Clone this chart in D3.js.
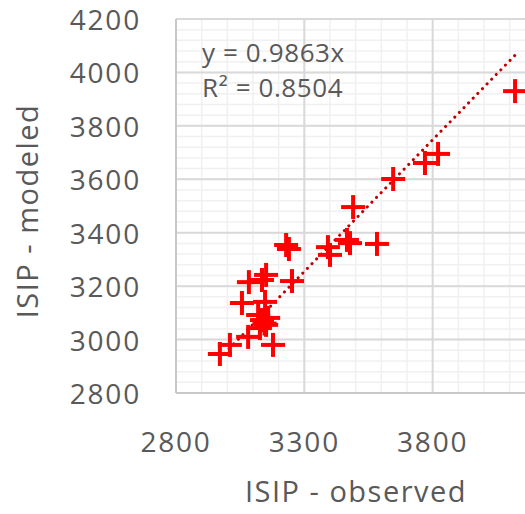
<!DOCTYPE html>
<html>
<head>
<meta charset="utf-8">
<script src="https://cdn.jsdelivr.net/npm/d3@7"></script>
<style>
  body { margin: 0; background: #fff; }
  text { font-family: "Open Sans", sans-serif; fill: #595959; }
</style>
</head>
<body>
<svg id="chart" width="525" height="514"></svg>
<script>
// observed vs modeled ISIP
const observed = [4121, 3821, 3770, 3646, 3490, 3466, 3478, 3583, 3392, 3400,
  3229, 3240, 3084, 3135, 3151, 3252, 3057, 3147, 3120, 3135,
  3151, 3159, 3127, 3145, 3081, 3178, 3010, 2971];
const modeled = [3930, 3695, 3661, 3601, 3496, 3373, 3361, 3358, 3346, 3317,
  3354, 3339, 3215, 3223, 3242, 3219, 3137, 3141, 3092, 3073,
  3055, 3081, 3043, 3060, 3010, 2980, 2980, 2946];
const slope = 0.9863;
const eqLabels = ["y = 0.9863x", "R² = 0.8504"];
const xTicks = [2800, 3300, 3800];
const yTicks = [2800, 3000, 3200, 3400, 3600, 3800, 4000, 4200];

const svg = d3.select("#chart");

const x = d3.scaleLinear().domain([2800, 4300]).range([176, 561]);
const y = d3.scaleLinear().domain([2800, 4200]).range([393, 19]);

// minor grid
const g = svg.append("g");
g.selectAll(".vminor")
  .data(d3.range(2800, 4301, 100))
  .enter().append("line")
  .attr("x1", d => x(d)).attr("x2", d => x(d))
  .attr("y1", y(2800)).attr("y2", y(4200))
  .attr("stroke", "#f0f0f0").attr("stroke-width", 1.5);
g.selectAll(".hminor")
  .data(d3.range(2800, 4201, 40))
  .enter().append("line")
  .attr("x1", x(2800)).attr("x2", x(4300))
  .attr("y1", d => y(d)).attr("y2", d => y(d))
  .attr("stroke", "#f0f0f0").attr("stroke-width", 1.5);

// major grid
g.selectAll(".vmajor")
  .data(d3.range(2800, 4301, 500))
  .enter().append("line")
  .attr("x1", d => x(d)).attr("x2", d => x(d))
  .attr("y1", y(2800)).attr("y2", y(4200))
  .attr("stroke", "#d9d9d9").attr("stroke-width", 2);
g.selectAll(".hmajor")
  .data(yTicks)
  .enter().append("line")
  .attr("x1", x(2800)).attr("x2", x(4300))
  .attr("y1", d => y(d)).attr("y2", d => y(d))
  .attr("stroke", "#d9d9d9").attr("stroke-width", 2);

// axis lines
svg.append("line")
  .attr("x1", x(2800)).attr("x2", x(2800))
  .attr("y1", y(2800)).attr("y2", y(4200))
  .attr("stroke", "#c8c8c8").attr("stroke-width", 2);
svg.append("line")
  .attr("x1", x(2800)).attr("x2", x(4300))
  .attr("y1", y(2800)).attr("y2", y(2800))
  .attr("stroke", "#c8c8c8").attr("stroke-width", 2);

// tick labels
svg.selectAll(".ylab")
  .data(yTicks)
  .enter().append("text")
  .attr("x", 141)
  .attr("y", d => y(d) + 11)
  .attr("text-anchor", "end")
  .style("font-size", "28px")
  .style("letter-spacing", "1.8px")
  .text(d => d);
svg.selectAll(".xlab")
  .data(xTicks)
  .enter().append("text")
  .attr("x", d => x(d))
  .attr("y", 452)
  .attr("text-anchor", "middle")
  .style("font-size", "28px")
  .style("letter-spacing", "1.8px")
  .text(d => d);

// axis titles
svg.append("text")
  .attr("x", 356).attr("y", 502)
  .attr("text-anchor", "middle")
  .style("font-size", "29px")
  .style("letter-spacing", "1.5px")
  .text("ISIP - observed");
svg.append("text")
  .attr("transform", "translate(38,211) rotate(-90)")
  .attr("text-anchor", "middle")
  .style("font-size", "29px")
  .style("letter-spacing", "1.5px")
  .text("ISIP - modeled");

// trendline
const xMin = d3.min(observed), xMax = d3.max(observed);
svg.append("line")
  .attr("x1", x(xMin)).attr("y1", y(slope * xMin))
  .attr("x2", x(xMax)).attr("y2", y(slope * xMax))
  .attr("stroke", "#c00000")
  .attr("stroke-width", 3)
  .attr("stroke-linecap", "round")
  .attr("stroke-dasharray", "0.1,6.5");

// markers
const pts = observed.map((v, i) => ({ ox: v, my: modeled[i] }));
const arm = 12;
const marks = svg.append("g").attr("stroke", "#ff0000").attr("stroke-width", 4);
marks.selectAll(".h")
  .data(pts)
  .enter().append("line")
  .attr("x1", d => x(d.ox) - arm).attr("x2", d => x(d.ox) + arm)
  .attr("y1", d => y(d.my)).attr("y2", d => y(d.my));
marks.selectAll(".v")
  .data(pts)
  .enter().append("line")
  .attr("x1", d => x(d.ox)).attr("x2", d => x(d.ox))
  .attr("y1", d => y(d.my) - arm).attr("y2", d => y(d.my) + arm);

// equation label
svg.selectAll(".eq")
  .data(eqLabels)
  .enter().append("text")
  .attr("x", 202)
  .attr("y", (d, i) => 62 + i * 35)
  .style("font-size", "26px")
  .style("letter-spacing", "0.6px")
  .text(d => d);
</script>
</body>
</html>
